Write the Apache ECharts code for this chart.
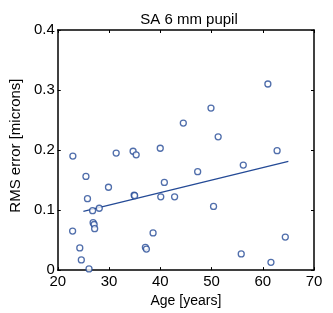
<!DOCTYPE html>
<html>
<head>
<meta charset="utf-8">
<script src="https://cdn.jsdelivr.net/npm/echarts@6/dist/echarts.min.js"></script>
<style>
  html, body { margin: 0; padding: 0; background: #fff; }
  #chart { width: 333px; height: 313px; }
</style>
</head>
<body>
<div id="chart"></div>
<script>
const ages = [22.95, 22.9, 24.3, 24.6, 26.1, 25.5, 25.8, 26.8, 26.9, 27.1, 27.2, 28.1, 29.9, 31.4,
  34.7, 35.3, 34.9, 35.0, 37.1, 37.3, 38.6, 40.0, 40.1, 40.8, 42.8, 44.5, 47.3, 49.9, 50.4, 51.3,
  55.8, 56.2, 61.0, 61.6, 62.8, 64.4]
const rmsErrors = [0.190, 0.065, 0.037, 0.017, 0.002, 0.156, 0.119, 0.099, 0.079, 0.076, 0.069, 0.103, 0.138, 0.195,
  0.198, 0.192, 0.125, 0.124, 0.038, 0.035, 0.062, 0.203, 0.122, 0.146, 0.122, 0.245, 0.164, 0.270, 0.106, 0.222,
  0.027, 0.175, 0.310, 0.013, 0.199, 0.055]
const fitAges = [25, 65]
const fitRms = [0.098, 0.181]

const blue = "#244a96"
const font = "Liberation Sans, Arial, sans-serif"

const chart = echarts.init(document.getElementById("chart"))

const axisBase = {
  axisLine: { show: true, onZero: false, lineStyle: { color: "#000", width: 1.5 } },
  axisTick: { show: true, inside: true, length: 3, lineStyle: { color: "#000", width: 1 } },
  splitLine: { show: false },
}

chart.setOption({
  animation: false,
  title: {
    text: "SA 6 mm pupil",
    left: 184,
    textAlign: "center",
    top: 7,
    textStyle: { fontFamily: font, fontSize: 15, fontWeight: "normal", color: "#000" },
  },
  grid: { left: 54, right: 19, top: 30, bottom: 36 },
  xAxis: [
    {
      ...axisBase,
      type: "value",
      min: 20,
      max: 70,
      interval: 10,
      name: "Age [years]",
      nameLocation: "middle",
      nameGap: 18,
      nameTextStyle: { fontFamily: font, fontSize: 14, color: "#000" },
      axisLabel: { fontFamily: font, fontSize: 15, color: "#000", margin: 4 },
    },
    {
      ...axisBase,
      type: "value",
      position: "top",
      min: 20,
      max: 70,
      interval: 10,
      axisLabel: { show: false },
    },
  ],
  yAxis: [
    {
      ...axisBase,
      type: "value",
      min: 0,
      max: 0.4,
      interval: 0.1,
      name: "RMS error [microns]",
      nameLocation: "middle",
      nameGap: 21,
      nameTextStyle: { fontFamily: font, fontSize: 15, color: "#000", padding: [0, 0, 0, 9] },
      axisLabel: { fontFamily: font, fontSize: 15, color: "#000", margin: 3 },
    },
    {
      ...axisBase,
      type: "value",
      position: "right",
      min: 0,
      max: 0.4,
      interval: 0.1,
      axisLabel: { show: false },
    },
  ],
  series: [
    {
      type: "scatter",
      data: ages.map((a, i) => [a, rmsErrors[i]]),
      symbol: "circle",
      symbolSize: 6,
      itemStyle: { color: "#fff", borderColor: blue, borderWidth: 1.3 },
      z: 3,
    },
    {
      type: "line",
      data: fitAges.map((a, i) => [a, fitRms[i]]),
      showSymbol: false,
      lineStyle: { color: blue, width: 1.3 },
      z: 2,
    },
  ],
})
</script>
</body>
</html>
